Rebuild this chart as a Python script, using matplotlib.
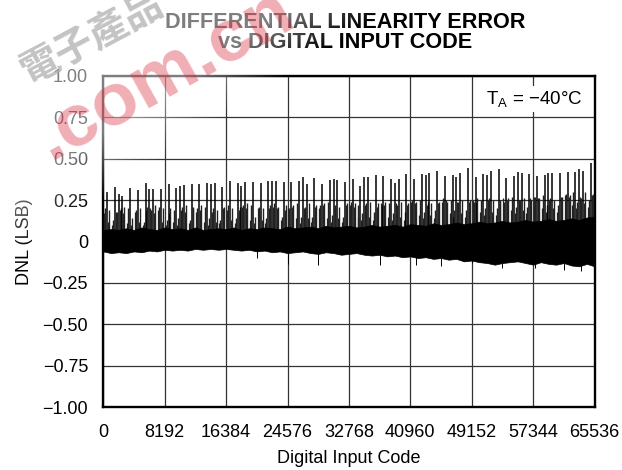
import numpy as np
import matplotlib
matplotlib.use('Agg')
import matplotlib.pyplot as plt

plt.rcParams['font.family'] = ['Liberation Sans', 'Noto Sans CJK TC', 'DejaVu Sans']

# tall spikes
spike_codes = [512, 1536, 2048, 2560, 3584, 4608, 5632, 6144, 6656, 7680, 8704, 9728, 10240, 10752,
               11776, 12800, 13824, 14336, 14848, 15872, 16896, 17920, 18432, 18944, 19968, 20992,
               22016, 22528, 23040, 24064, 25088, 26112, 26624, 27136, 28160, 29184, 30208, 30720,
               31232, 32256, 33280, 34304, 34816, 35328, 36352, 37376, 38400, 38912, 39424, 40448,
               41472, 42496, 43008, 43520, 44544, 45568, 46592, 47104, 47616, 48640, 49664, 50688,
               51200, 51712, 52736, 53760, 54784, 55296, 55808, 56832, 57856, 58880, 59392, 59904,
               60928, 61952, 62976, 63488, 64000, 65024]
spike_tops = [0.297, 0.327, 0.285, 0.277, 0.323, 0.311, 0.352, 0.315, 0.315, 0.315, 0.346, 0.323,
              0.337, 0.344, 0.350, 0.346, 0.352, 0.348, 0.354, 0.329, 0.364, 0.356, 0.335, 0.358,
              0.358, 0.352, 0.368, 0.368, 0.364, 0.358, 0.358, 0.368, 0.390, 0.350, 0.386, 0.346,
              0.372, 0.380, 0.372, 0.360, 0.376, 0.337, 0.392, 0.388, 0.400, 0.396, 0.378, 0.352,
              0.376, 0.408, 0.376, 0.410, 0.400, 0.412, 0.426, 0.394, 0.400, 0.392, 0.416, 0.444,
              0.392, 0.408, 0.402, 0.426, 0.436, 0.386, 0.396, 0.422, 0.412, 0.408, 0.396, 0.404,
              0.416, 0.412, 0.416, 0.418, 0.422, 0.436, 0.428, 0.476]

# shorter spikes in the grey comb, one every 512 codes
comb_heights = [0.20, 0.19, 0.13, 0.18, 0.20, 0.21, 0.20, 0.14, 0.19, 0.20, 0.12, 0.21, 0.19, 0.22, 0.21, 0.20,
                0.13, 0.20, 0.19, 0.14, 0.21, 0.22, 0.13, 0.21, 0.20, 0.22, 0.21, 0.14, 0.20, 0.19, 0.13, 0.21,
                0.22, 0.20, 0.14, 0.21, 0.22, 0.23, 0.22, 0.15, 0.21, 0.20, 0.14, 0.22, 0.23, 0.21, 0.15, 0.22,
                0.20, 0.22, 0.23, 0.15, 0.21, 0.23, 0.15, 0.22, 0.22, 0.23, 0.24, 0.16, 0.22, 0.21, 0.15, 0.23,
                0.24, 0.23, 0.22, 0.17, 0.23, 0.24, 0.18, 0.23, 0.22, 0.24, 0.23, 0.17, 0.22, 0.24, 0.18, 0.23,
                0.25, 0.24, 0.25, 0.18, 0.24, 0.23, 0.19, 0.24, 0.26, 0.24, 0.25, 0.19, 0.24, 0.25, 0.19, 0.25,
                0.24, 0.26, 0.25, 0.20, 0.26, 0.25, 0.20, 0.25, 0.24, 0.26, 0.27, 0.21, 0.25, 0.26, 0.21, 0.25,
                0.27, 0.26, 0.28, 0.22, 0.26, 0.25, 0.22, 0.27, 0.29, 0.28, 0.30, 0.24, 0.26, 0.30, 0.25, 0.29]

# extra spikes that pack the comb into grey clusters, also every 512 codes
fill_heights = [0.17, 0.12, 0.10, 0.18, 0.19, 0.17, 0.11, 0.10, 0.18, 0.12, 0.10, 0.19, 0.20, 0.17, 0.19, 0.12,
                0.10, 0.17, 0.12, 0.10, 0.19, 0.18, 0.11, 0.20, 0.18, 0.19, 0.12, 0.10, 0.18, 0.12, 0.11, 0.20,
                0.19, 0.13, 0.11, 0.19, 0.21, 0.20, 0.13, 0.11, 0.20, 0.13, 0.11, 0.20, 0.21, 0.20, 0.13, 0.19,
                0.20, 0.21, 0.14, 0.11, 0.20, 0.14, 0.12, 0.21, 0.20, 0.22, 0.14, 0.12, 0.20, 0.14, 0.12, 0.22,
                0.22, 0.21, 0.15, 0.13, 0.22, 0.15, 0.13, 0.21, 0.23, 0.22, 0.15, 0.13, 0.23, 0.15, 0.13, 0.22,
                0.24, 0.23, 0.16, 0.14, 0.22, 0.16, 0.14, 0.23, 0.24, 0.25, 0.17, 0.15, 0.24, 0.17, 0.15, 0.24,
                0.25, 0.24, 0.18, 0.16, 0.25, 0.18, 0.16, 0.24, 0.26, 0.25, 0.19, 0.17, 0.25, 0.19, 0.17, 0.26,
                0.27, 0.26, 0.20, 0.18, 0.25, 0.20, 0.18, 0.27, 0.28, 0.27, 0.22, 0.20, 0.27, 0.23, 0.21, 0.28]

# upper and lower edge of the solid noise band, one every 1024 codes
band_top = [0.07, 0.075, 0.07, 0.08, 0.07, 0.085, 0.075, 0.07, 0.085, 0.075, 0.08, 0.07, 0.085, 0.07, 0.075, 0.08,
            0.075, 0.085, 0.07, 0.08, 0.075, 0.085, 0.08, 0.075, 0.09, 0.08, 0.085, 0.09, 0.08, 0.095, 0.085, 0.09,
            0.095, 0.085, 0.09, 0.10, 0.09, 0.095, 0.10, 0.09, 0.105, 0.10, 0.095, 0.11, 0.10, 0.105, 0.115, 0.105,
            0.11, 0.12, 0.11, 0.115, 0.125, 0.115, 0.12, 0.13, 0.12, 0.125, 0.135, 0.125, 0.13, 0.14, 0.13, 0.145, 0.15]
band_bottom = [-0.06, -0.07, -0.065, -0.07, -0.06, -0.065, -0.055, -0.06, -0.05, -0.055, -0.05, -0.055, -0.045, -0.05, -0.045, -0.05,
               -0.045, -0.05, -0.055, -0.05, -0.06, -0.055, -0.065, -0.06, -0.07, -0.065, -0.06, -0.07, -0.075, -0.065, -0.07, -0.08,
               -0.075, -0.07, -0.08, -0.085, -0.08, -0.09, -0.085, -0.095, -0.09, -0.10, -0.095, -0.105, -0.10, -0.11, -0.105, -0.12,
               -0.115, -0.125, -0.13, -0.14, -0.13, -0.125, -0.12, -0.13, -0.14, -0.125, -0.135, -0.14, -0.13, -0.145, -0.15, -0.135, -0.15]

# the few spikes going down out of the band
dip_codes = [20480, 24576, 28672, 36864, 41728, 45056, 49152, 53248, 57600, 61440, 63744]
dip_values = [-0.10, -0.135, -0.14, -0.145, -0.14, -0.15, -0.13, -0.16, -0.16, -0.17, -0.18]

x_ticks = [0, 8192, 16384, 24576, 32768, 40960, 49152, 57344, 65536]
y_ticks = [-1.0, -0.75, -0.5, -0.25, 0, 0.25, 0.5, 0.75, 1.0]
y_labels = ['\u22121.00', '\u22120.75', '\u22120.50', '\u22120.25', '0', '0.25', '0.50', '0.75', '1.00']

comb_codes = np.arange(256, 65536, 512)
fill_codes = np.arange(128, 65536, 512)
band_codes = np.arange(0, 65537, 1024)

fig = plt.figure(figsize=(6.22, 4.70), dpi=100)
ax = fig.add_axes([103.3 / 622, 1 - 407 / 470, 491.2 / 622, 331 / 470])

ax.vlines(fill_codes, 0, fill_heights, color='#222222', lw=0.9, zorder=3)
ax.vlines(comb_codes, 0, comb_heights, color='#222222', lw=1.0, zorder=3)
ax.vlines(spike_codes, 0, spike_tops, color='black', lw=1.1, zorder=3)
ax.vlines(dip_codes, dip_values, 0, color='black', lw=0.7, zorder=3)
ax.fill_between(band_codes, band_bottom, band_top, color='black', lw=0.5, zorder=4)

ax.set_xlim(0, 65536)
ax.set_ylim(-1, 1)
ax.set_xticks(x_ticks)
ax.set_yticks(y_ticks)
ax.set_yticklabels(y_labels)
ax.tick_params(length=0, labelsize=13, pad=12)
ax.tick_params(axis='y', pad=11)
ax.grid(color='#333333', lw=0.9, zorder=1)
ax.set_axisbelow(True)
for s in ax.spines.values():
    s.set_linewidth(1.7)
ax.set_xlabel('Digital Input Code', fontsize=13, labelpad=7)
ax.set_ylabel('DNL (LSB)', fontsize=13, labelpad=7)

ax.text(0.975, 0.96, 'T$_{\\mathregular{A}}$ = \u221240\u00b0C', transform=ax.transAxes, ha='right', va='top',
        fontsize=13.5, zorder=5, bbox=dict(fc='white', ec='none', pad=2))
fig.text(345 / 622, 1 - 22 / 470, 'DIFFERENTIAL LINEARITY ERROR', ha='center', va='center', fontsize=15.6, weight='bold')
fig.text(345 / 622, 1 - 43 / 470, 'vs DIGITAL INPUT CODE', ha='center', va='center', fontsize=15.6, weight='bold')

# watermark: washed out corner, then the stamp over it
over = fig.add_axes([0, 0, 1, 1], zorder=10)
over.axis('off')
yy, xx = np.mgrid[0:470, 0:622]
wash = np.ones((470, 622, 4))
wash[..., 3] = np.clip((400 - xx - 1.5 * yy) / 200, 0, 0.5)
over.imshow(wash, extent=[0, 622, 470, 0], aspect='auto')
over.set_xlim(0, 622)
over.set_ylim(470, 0)
over.text(165, 75, '.com.cn', color='#d8283c', alpha=0.38, fontsize=54, weight='bold',
          rotation=29, ha='center', va='center', rotation_mode='anchor')
over.text(92, 38, '\u96fb\u5b50\u7522\u54c1', color='#aaaaaa', alpha=0.7, fontsize=28, weight='bold',
          rotation=28, ha='center', va='center', rotation_mode='anchor')

fig.savefig('out.png', dpi=100)
